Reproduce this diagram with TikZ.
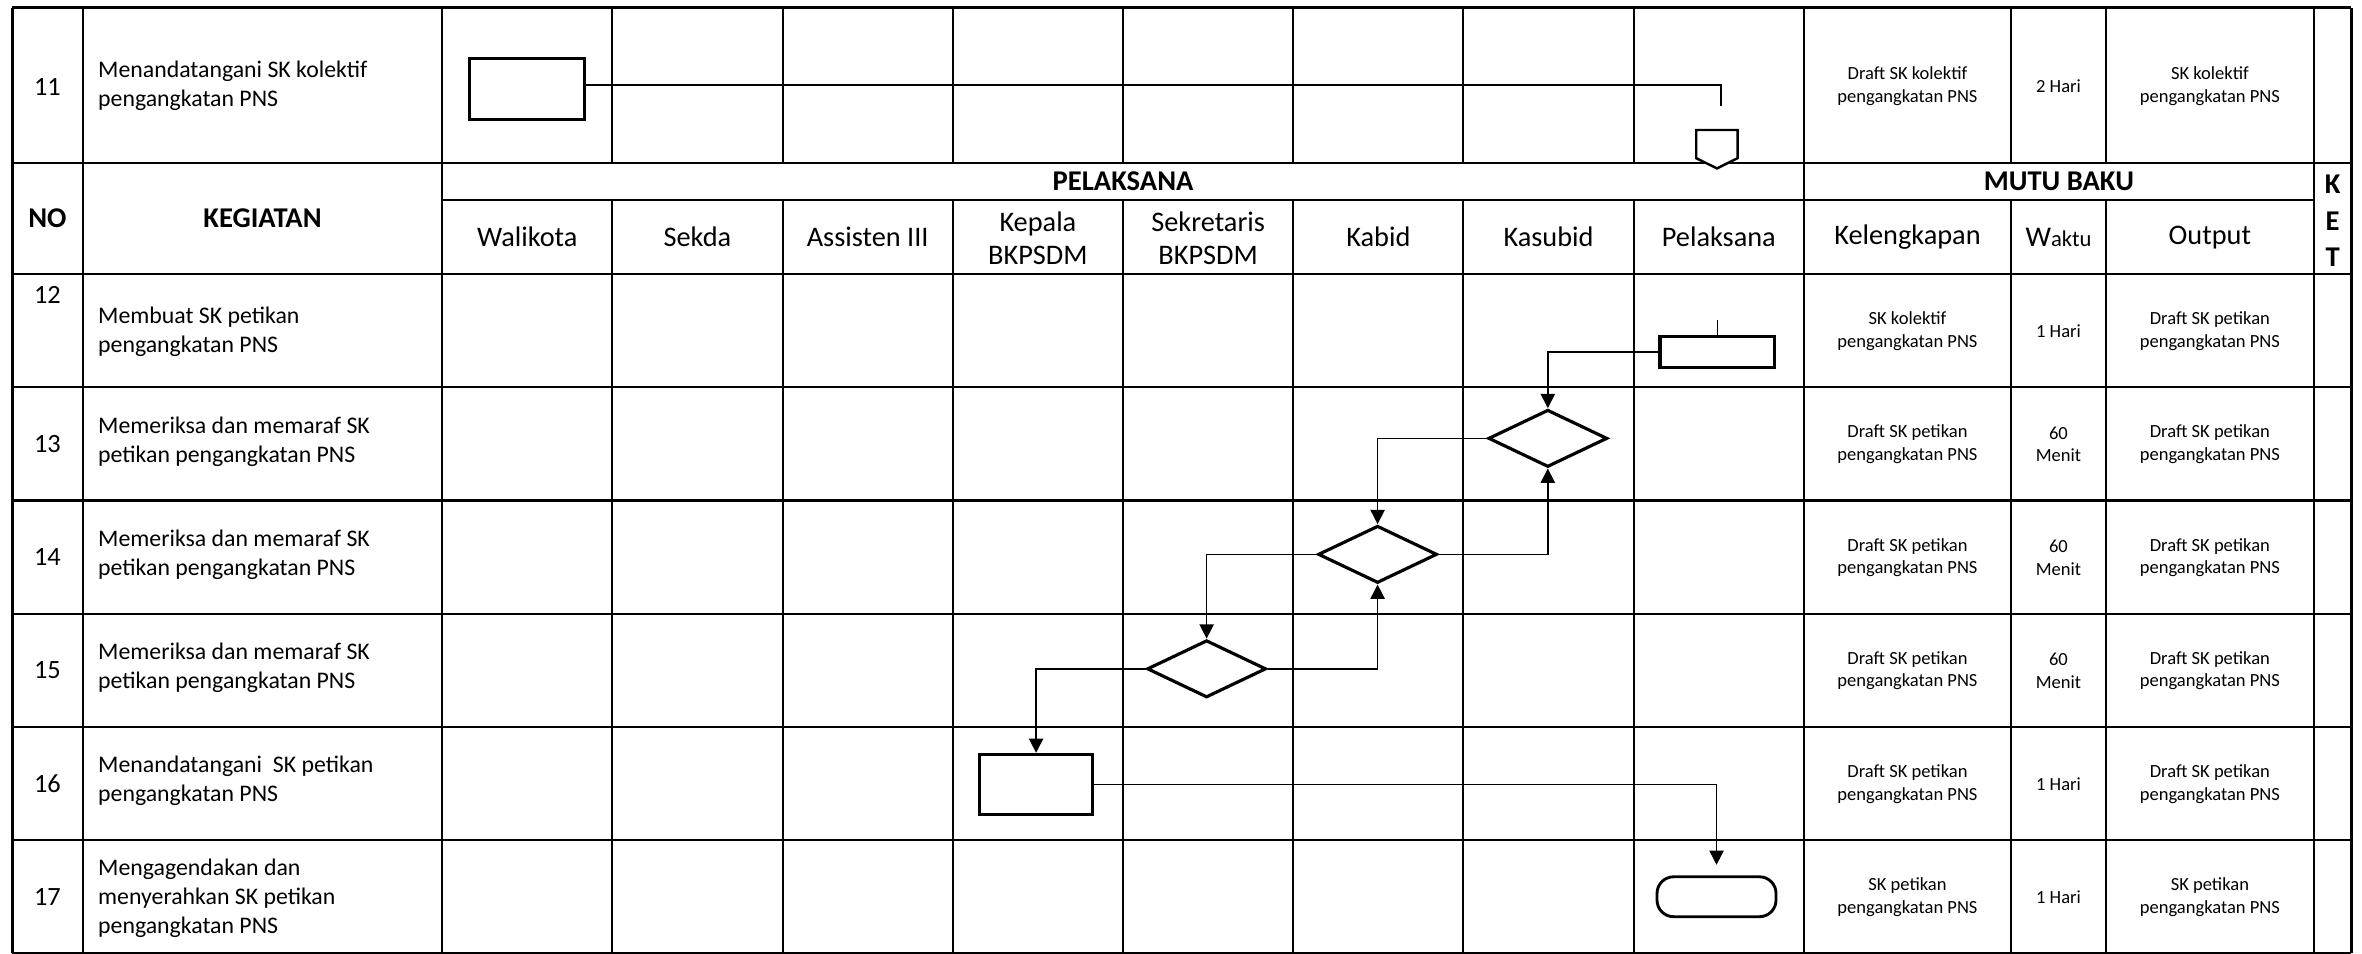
\documentclass[tikz,border=0pt]{standalone}
\usepackage{fontspec}
\setmainfont{Carlito}
\usetikzlibrary{shapes.geometric,arrows.meta}
\begin{document}
\begin{tikzpicture}[x=1pt,y=-1pt,
  vgrid/.style={line width=1.3pt},
  hgrid/.style={line width=1.5pt},
  border/.style={line width=2pt},
  shp/.style={draw, line width=2.1pt, inner sep=0pt},
  procbox/.style={shp, rectangle},
  decis/.style={shp, diamond, minimum width=79pt, minimum height=38pt},
  term/.style={shp, rectangle, rounded corners=11pt, minimum width=79pt, minimum height=26.5pt, line width=1.9pt},
  conn/.style={line width=1pt},
  arr/.style={conn, -{Triangle[length=9.5pt,width=9.5pt]}},
  hdr/.style={font=\fontsize{18.8}{22.2}\selectfont, align=center, inner sep=0pt},
  hdrb/.style={hdr, font=\fontsize{19}{22}\selectfont\bfseries},
  num/.style={font=\fontsize{17.5}{21}\selectfont, inner sep=0pt},
  act/.style={font=\fontsize{15.8}{19.3}\selectfont, align=left, anchor=west, inner sep=0pt},
  mutu/.style={font=\fontsize{12.3}{15}\selectfont, align=center, inner sep=0pt},
]
\useasboundingbox (0,0) rectangle (1568,633.3);
\fill[white] (0,0) rectangle (1568,633.3);

% ---------- grid ----------
\foreach \x in {55,293.5,1197.5}
  \draw[vgrid] (\x,5) -- (\x,632.7);
\foreach \x in {406.5,519.5,632.5,745.5,858.5,971.5,1084.5,1335,1398}{
  \draw[vgrid] (\x,5) -- (\x,108);
  \draw[vgrid] (\x,133) -- (\x,632.7);
}
\draw[vgrid] (1536,5) -- (1536,632.7);
\foreach \y in {5,108,182,257.15,332.3,407.45,482.6,557.75,632.7}
  \draw[hgrid] (8,\y) -- (1561,\y);
\draw[hgrid] (293.5,133) -- (1536,133);
\draw[border] (8,5) -- (8,632.7);
\draw[border] (1561,5) -- (1561,632.7);

% ---------- header ----------
\node[hdrb] (hno) at (31.5,145) {NO};
\node[hdrb] (hkeg) at (174.25,145) {KEGIATAN};
\node[hdrb] (hpel) at (745.5,120.5) {PELAKSANA};
\node[hdrb] (hmutu) at (1366.75,120.5) {MUTU BAKU};
\node[hdrb] (hk) at (1548.5,122.5) {K};
\node[hdrb] (he) at (1548.5,147) {E};
\node[hdrb] (ht) at (1548.5,170.5) {T};
\node[hdr] (hwal) at (350,157.5) {Walikota};
\node[hdr] (hsek) at (463,157.5) {Sekda};
\node[hdr] (hass) at (576,157.5) {Assisten III};
\node[hdr] (hkep) at (689,158) {Kepala\\BKPSDM};
\node[hdr] (hsekr) at (802,158) {Sekretaris\\BKPSDM};
\node[hdr] (hkab) at (915,157.5) {Kabid};
\node[hdr] (hkas) at (1028,157.5) {Kasubid};
\node[hdr] (hpl) at (1141,157.5) {Pelaksana};
\node[hdr] (hkel) at (1266.25,157.5) {Kelengkapan};
\node[hdr] (hwak) at (1366.5,157.5) {\fontsize{19}{17.5}\selectfont W\fontsize{15}{17.5}\selectfont aktu};
\node[hdr] (hout) at (1467,157.5) {Output};

% ---------- rows: numbers and activities ----------
\node[num] (n11) at (31.5,58) {11};
\node[act] (a11) at (65,57) {Menandatangani SK kolektif\\pengangkatan PNS};
\node[num] (n12) at (31.5,196) {12};
\node[act] (a12) at (65,220.5) {Membuat SK petikan\\pengangkatan PNS};
\node[num] (n13) at (31.5,294.7) {13};
\node[act] (a13) at (65,293) {Memeriksa dan memaraf SK\\petikan pengangkatan PNS};
\node[num] (n14) at (31.5,369.9) {14};
\node[act] (a14) at (65,368.2) {Memeriksa dan memaraf SK\\petikan pengangkatan PNS};
\node[num] (n15) at (31.5,445) {15};
\node[act] (a15) at (65,443.3) {Memeriksa dan memaraf SK\\petikan pengangkatan PNS};
\node[num] (n16) at (31.5,520.2) {16};
\node[act] (a16) at (65,518.5) {Menandatangani\ \ SK petikan\\pengangkatan PNS};
\node[num] (n17) at (31.5,595.3) {17};
\node[act] (a17) at (65,596.5) {Mengagendakan dan\\menyerahkan SK petikan\\pengangkatan PNS};

% ---------- mutu baku ----------
\node[mutu] (k11) at (1266.25,57.3) {Draft SK kolektif\\pengangkatan PNS};
\node[mutu] (w11) at (1366.5,57.3) {2 Hari};
\node[mutu] (o11) at (1467,57.3) {SK kolektif\\pengangkatan PNS};
\node[mutu] (k12) at (1266.25,220) {SK kolektif\\pengangkatan PNS};
\node[mutu] (w12) at (1366.5,220) {1 Hari};
\node[mutu] (o12) at (1467,220) {Draft SK petikan\\pengangkatan PNS};
\node[mutu] (k13) at (1266.25,295) {Draft SK petikan\\pengangkatan PNS};
\node[mutu] (w13) at (1366.5,295) {60\\Menit};
\node[mutu] (o13) at (1467,295) {Draft SK petikan\\pengangkatan PNS};
\node[mutu] (k14) at (1266.25,370.2) {Draft SK petikan\\pengangkatan PNS};
\node[mutu] (w14) at (1366.5,370.2) {60\\Menit};
\node[mutu] (o14) at (1467,370.2) {Draft SK petikan\\pengangkatan PNS};
\node[mutu] (k15) at (1266.25,445.3) {Draft SK petikan\\pengangkatan PNS};
\node[mutu] (w15) at (1366.5,445.3) {60\\Menit};
\node[mutu] (o15) at (1467,445.3) {Draft SK petikan\\pengangkatan PNS};
\node[mutu] (k16) at (1266.25,520.5) {Draft SK petikan\\pengangkatan PNS};
\node[mutu] (w16) at (1366.5,520.5) {1 Hari};
\node[mutu] (o16) at (1467,520.5) {Draft SK petikan\\pengangkatan PNS};
\node[mutu] (k17) at (1266.25,595.6) {SK petikan\\pengangkatan PNS};
\node[mutu] (w17) at (1366.5,595.6) {1 Hari};
\node[mutu] (o17) at (1467,595.6) {SK petikan\\pengangkatan PNS};

% ---------- flow shapes ----------
\node[procbox, minimum width=76.4pt, minimum height=40.5pt] (r11) at (349.8,59) {};
\coordinate (c11) at (1142.5,70.4);
\draw[line width=1.6pt, fill=white] (1126,86.3) -- (1153.5,86.3) -- (1153.5,105) -- (1139.8,111.8) -- (1126,105) -- cycle;

\node[procbox, minimum width=76pt, minimum height=20.5pt] (r12) at (1140,233.7) {};
\coordinate (s12) at (1140,212.5);
\node[decis] (d13) at (1027.5,291) {};
\node[decis] (d14) at (914.5,368) {};
\node[decis] (d15) at (801,444) {};
\node[procbox, minimum width=74.8pt, minimum height=39.8pt] (r16) at (687.8,520.7) {};
\node[term] (t17) at (1139.5,595.3) {};

% ---------- connectors ----------
\draw[conn] ([yshift=2.5pt]r11.east) -| (c11);
\draw[conn] (s12) -- (r12.north);
\draw[arr] (r12.west) -| (d13.north);
\draw[arr] (d13.west) -| (d14.north);
\draw[arr] (d14.east) -| (d13.south);
\draw[arr] (d14.west) -| (d15.north);
\draw[arr] (d15.east) -| (d14.south);
\draw[arr] (d15.west) -| (r16.north);
\draw[arr, shorten >=7pt] (r16.east) -| (t17.north);
\end{tikzpicture}
\end{document}
